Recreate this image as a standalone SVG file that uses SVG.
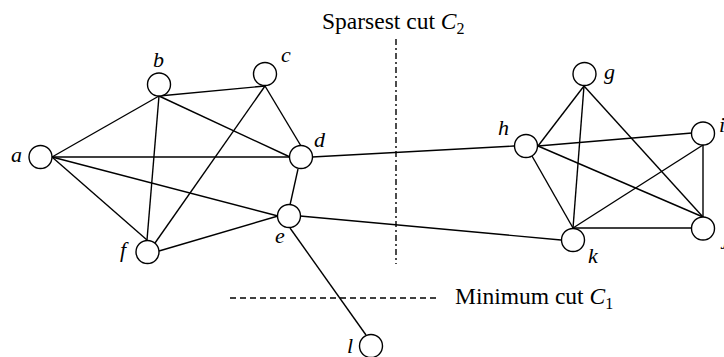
<svg xmlns="http://www.w3.org/2000/svg" width="724" height="357" viewBox="0 0 724 357">
<style>
.e{stroke:#000;stroke-width:1.4;fill:none}
.n{fill:#fff;stroke:#000;stroke-width:1.4}
.l{font-family:"Liberation Serif","Times New Roman",serif;font-style:italic;font-size:22px;fill:#000}
.t{font-family:"Liberation Serif","Times New Roman",serif;font-size:23.5px;fill:#000}
.cut1{stroke:#000;stroke-width:1.3;stroke-dasharray:6 4;fill:none}
.cut2{stroke:#000;stroke-width:1.4;stroke-dasharray:6 3 2 3;fill:none}
</style>
<rect width="724" height="357" fill="#fff"/>
<g id="cuts">
<line class="cut2" x1="396" y1="39" x2="396" y2="264"/>
<line class="cut1" x1="230" y1="298" x2="440" y2="298"/>
<text class="t" x="322" y="29">Sparsest cut <tspan font-style="italic">C</tspan><tspan font-size="16" dy="5">2</tspan></text>
<text class="t" x="455" y="304">Minimum cut <tspan font-style="italic">C</tspan><tspan font-size="16" dy="5">1</tspan></text>
</g>
<g id="connectors">
<line class="e" x1="52" y1="157" x2="159" y2="96"/>
<line class="e" x1="52" y1="157" x2="290" y2="157"/>
<line class="e" x1="52" y1="157" x2="278" y2="216"/>
<line class="e" x1="52" y1="157" x2="147" y2="240"/>
<line class="e" x1="159" y1="96" x2="265" y2="86"/>
<line class="e" x1="159" y1="96" x2="290" y2="157"/>
<line class="e" x1="159" y1="96" x2="147" y2="240"/>
<line class="e" x1="265" y1="86" x2="301" y2="146"/>
<line class="e" x1="265" y1="86" x2="155" y2="243"/>
<line class="e" x1="298" y1="169" x2="290" y2="205"/>
<line class="e" x1="159" y1="251" x2="278" y2="216"/>
<line class="e" x1="290" y1="228" x2="366" y2="335"/>
<line class="e" x1="312" y1="157" x2="514" y2="146"/>
<line class="e" x1="300" y1="216" x2="561" y2="240"/>
<line class="e" x1="584" y1="86" x2="538" y2="146"/>
<line class="e" x1="584" y1="86" x2="573" y2="228"/>
<line class="e" x1="584" y1="86" x2="703" y2="217"/>
<line class="e" x1="538" y1="146" x2="692" y2="133"/>
<line class="e" x1="532" y1="156" x2="573" y2="228"/>
<line class="e" x1="538" y1="146" x2="703" y2="217"/>
<line class="e" x1="703" y1="145" x2="573" y2="228"/>
<line class="e" x1="703" y1="145" x2="703" y2="217"/>
<line class="e" x1="573" y1="228" x2="692" y2="228"/>
</g>
<g id="a"><circle class="n" cx="40.5" cy="157" r="11.5"/><text class="l" x="11" y="162">a</text></g>
<g id="b"><circle class="n" cx="159" cy="84.5" r="11.5"/><text class="l" x="153" y="67">b</text></g>
<g id="c"><circle class="n" cx="265" cy="74" r="11.5"/><text class="l" x="281" y="62">c</text></g>
<g id="d"><circle class="n" cx="301" cy="157" r="11.5"/><text class="l" x="314" y="147">d</text></g>
<g id="e"><circle class="n" cx="289" cy="216" r="11.5"/><text class="l" x="275" y="243">e</text></g>
<g id="f"><circle class="n" cx="147.5" cy="252" r="11.5"/><text class="l" x="120" y="257">f</text></g>
<g id="g"><circle class="n" cx="584.5" cy="74" r="11.5"/><text class="l" x="604" y="79">g</text></g>
<g id="h"><circle class="n" cx="526" cy="146" r="11.5"/><text class="l" x="498" y="135">h</text></g>
<g id="i"><circle class="n" cx="703" cy="133.5" r="11.5"/><text class="l" x="719" y="132">i</text></g>
<g id="j"><circle class="n" cx="703" cy="228.5" r="11.5"/><text class="l" x="723" y="244">j</text></g>
<g id="k"><circle class="n" cx="573" cy="240" r="11.5"/><text class="l" x="588" y="263">k</text></g>
<g id="l"><circle class="n" cx="371" cy="346" r="11.5"/><text class="l" x="347" y="353">l</text></g>
</svg>
